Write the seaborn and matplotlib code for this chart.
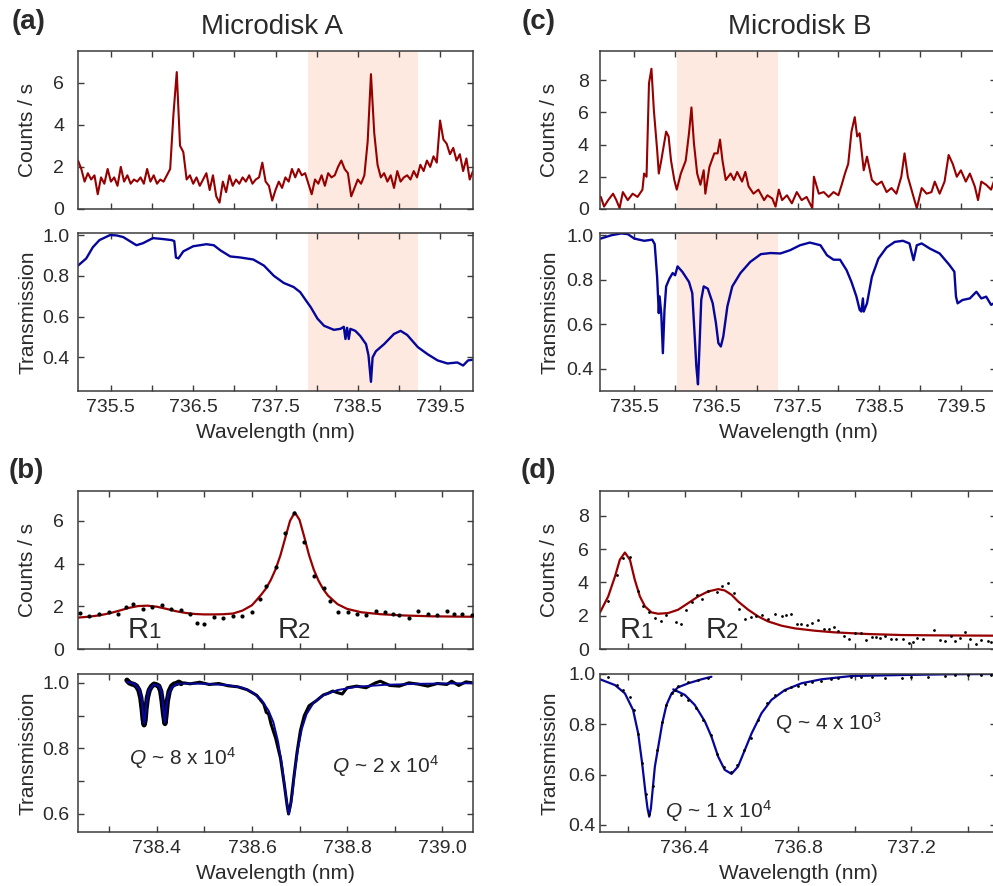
import numpy as np
import matplotlib
matplotlib.use('Agg')
import matplotlib.pyplot as plt
import seaborn as sns

# ---------------- data ----------------
# (a) Microdisk A, PL counts (uniform grid 735.10 .. 739.90, step 0.04 nm)
a_counts_start = 735.10
a_counts_step = 0.04
a_counts = [2.3, 1.9, 1.3, 1.7, 1.4, 1.6, 0.7, 1.5, 1.2, 1.9,
            1.3, 1.5, 1.1, 2.0, 1.3, 1.6, 1.2, 1.4, 1.3, 1.5,
            1.2, 1.9, 1.3, 1.6, 1.2, 1.4, 1.3, 1.6, 1.9, 4.5,
            6.5, 3.0, 2.7, 1.4, 1.6, 1.2, 1.5, 1.1, 1.4, 1.7,
            0.9, 1.6, 0.6, 0.3, 1.3, 0.8, 1.6, 1.1, 1.4, 1.2,
            1.5, 1.3, 1.6, 1.2, 1.4, 1.5, 2.2, 1.3, 1.1, 0.4,
            0.9, 1.3, 1.0, 1.5, 1.3, 1.9, 1.5, 1.9, 1.6, 1.7,
            1.2, 0.7, 1.4, 1.2, 1.6, 1.1, 1.7, 1.5, 1.6, 2.0,
            2.3, 1.9, 1.7, 0.6, 1.0, 1.4, 1.2, 1.6, 3.2, 6.4,
            3.6, 2.1, 1.5, 1.7, 1.3, 1.6, 1.0, 1.8, 1.3, 1.5,
            1.6, 1.4, 1.8, 1.5, 2.1, 1.8, 2.3, 2.0, 2.5, 2.2,
            4.2, 3.3, 3.1, 2.6, 2.9, 2.3, 2.6, 1.8, 2.4, 1.4, 1.8]

# (a) Microdisk A, transmission
a_trans_wl = [735.10, 735.20, 735.28, 735.36, 735.49, 735.57, 735.65, 735.77, 735.81, 735.89,
              736.01, 736.14, 736.24, 736.27, 736.29, 736.32, 736.38, 736.50, 736.66, 736.75,
              736.83, 736.95, 737.07, 737.23, 737.36, 737.48, 737.60, 737.72, 737.80, 737.86,
              737.93, 738.01, 738.09, 738.21, 738.29, 738.33, 738.35, 738.37, 738.39, 738.41,
              738.47, 738.53, 738.60, 738.63, 738.66, 738.68, 738.72, 738.82, 738.94, 739.02,
              739.10, 739.23, 739.35, 739.47, 739.59, 739.71, 739.78, 739.84, 739.92]
a_trans = [0.85, 0.885, 0.94, 0.975, 1.0, 0.998, 0.99, 0.96, 0.95, 0.96,
           0.985, 0.98, 0.975, 0.97, 0.89, 0.885, 0.92, 0.945, 0.955, 0.95,
           0.925, 0.895, 0.89, 0.88, 0.85, 0.80, 0.765, 0.745, 0.72, 0.685,
           0.645, 0.59, 0.555, 0.535, 0.54, 0.55, 0.49, 0.545, 0.49, 0.54,
           0.53, 0.505, 0.465, 0.41, 0.28, 0.40, 0.43, 0.465, 0.515, 0.53,
           0.51, 0.45, 0.415, 0.385, 0.37, 0.375, 0.36, 0.385, 0.39]

# (c) Microdisk B, PL counts
c_counts_wl = [735.09, 735.13, 735.18, 735.24, 735.28, 735.32, 735.36, 735.42, 735.48, 735.54,
               735.60, 735.62, 735.65, 735.68, 735.71, 735.74, 735.78, 735.80, 735.83, 735.89,
               735.92, 735.95, 735.99, 736.02, 736.07, 736.13, 736.17, 736.20, 736.23, 736.27,
               736.31, 736.35, 736.37, 736.42, 736.48, 736.52, 736.55, 736.58, 736.62, 736.68,
               736.72, 736.76, 736.82, 736.86, 736.90, 736.96, 737.02, 737.09, 737.13, 737.19,
               737.23, 737.27, 737.31, 737.37, 737.43, 737.49, 737.55, 737.61, 737.68, 737.70,
               737.76, 737.82, 737.88, 737.94, 738.00, 738.04, 738.08, 738.12, 738.16, 738.20,
               738.23, 738.26, 738.31, 738.35, 738.41, 738.47, 738.53, 738.59, 738.65, 738.71,
               738.77, 738.81, 738.85, 738.92, 738.96, 739.02, 739.08, 739.14, 739.18, 739.24,
               739.30, 739.35, 739.40, 739.45, 739.50, 739.56, 739.61, 739.67, 739.71, 739.75,
               739.81, 739.87, 739.91]
c_counts = [0.75, 0.15, 0.55, 0.95, 0.55, 0.05, 1.05, 0.55, 0.95, 0.75,
            1.2, 2.2, 2.0, 7.8, 8.7, 6.1, 3.65, 2.2, 3.0, 4.8,
            4.5, 3.0, 1.8, 1.2, 2.2, 3.0, 4.7, 6.3, 4.1, 2.2,
            1.5, 2.4, 0.95, 2.6, 3.45, 3.45, 4.3, 3.0, 1.8, 2.2,
            1.8, 2.3, 1.7, 2.3, 1.4, 0.95, 1.2, 0.55, 0.85, 0.65,
            0.15, 1.2, 0.55, 0.85, 0.35, 1.05, 0.55, 0.75, 0.05, 2.0,
            0.95, 1.05, 0.75, 1.05, 0.85, 1.5, 2.2, 2.8, 4.8, 5.7,
            4.5, 4.7, 2.4, 3.25, 1.8, 1.5, 1.7, 1.05, 1.3, 0.95,
            2.0, 3.45, 2.0, 0.75, 0.05, 1.3, 0.95, 1.05, 1.7, 0.95,
            1.7, 3.35, 2.8, 2.0, 2.4, 1.7, 2.2, 1.4, 0.55, 1.7,
            1.5, 1.2, 1.8]

# (c) Microdisk B, transmission
c_trans_wl = [735.09, 735.22, 735.34, 735.42, 735.50, 735.62, 735.72, 735.75, 735.78, 735.80,
              735.81, 735.83, 735.85, 735.87, 735.89, 735.93, 735.97, 736.00, 736.03, 736.09,
              736.17, 736.21, 736.24, 736.26, 736.28, 736.30, 736.32, 736.35, 736.40, 736.46,
              736.50, 736.53, 736.56, 736.59, 736.64, 736.70, 736.80, 736.92, 737.05, 737.17,
              737.29, 737.41, 737.53, 737.65, 737.78, 737.86, 737.94, 738.02, 738.10, 738.16,
              738.22, 738.26, 738.28, 738.30, 738.31, 738.35, 738.41, 738.49, 738.59, 738.69,
              738.79, 738.87, 738.90, 738.92, 738.96, 739.02, 739.12, 739.24, 739.36, 739.42,
              739.44, 739.46, 739.52, 739.61, 739.69, 739.75, 739.81, 739.87, 739.93]
c_trans = [0.985, 1.0, 1.008, 1.005, 0.985, 0.975, 0.98, 0.96, 0.81, 0.65,
           0.725, 0.65, 0.47, 0.665, 0.77, 0.805, 0.83, 0.82, 0.86, 0.835,
           0.79, 0.74, 0.545, 0.41, 0.33, 0.515, 0.71, 0.77, 0.76, 0.695,
           0.605, 0.515, 0.50, 0.545, 0.68, 0.77, 0.83, 0.88, 0.915, 0.92,
           0.918, 0.933, 0.955, 0.967, 0.955, 0.91, 0.89, 0.89, 0.843, 0.79,
           0.725, 0.665, 0.657, 0.716, 0.657, 0.694, 0.813, 0.895, 0.945, 0.97,
           0.975, 0.963, 0.918, 0.888, 0.955, 0.963, 0.94, 0.918, 0.866, 0.836,
           0.724, 0.694, 0.709, 0.716, 0.746, 0.716, 0.724, 0.687, 0.70]

# (b) zoom of microdisk A: PL points + fit
b_pl_wl = [738.239, 738.258, 738.279, 738.299, 738.319, 738.335, 738.349, 738.370, 738.390, 738.410,
           738.430, 738.450, 738.469, 738.485, 738.499, 738.520, 738.540, 738.560, 738.580, 738.601,
           738.616, 738.630, 738.650, 738.670, 738.688, 738.710, 738.730, 738.751, 738.765, 738.781,
           738.801, 738.821, 738.840, 738.861, 738.880, 738.896, 738.910, 738.931, 738.950, 738.971,
           738.990, 739.011, 739.025, 739.041, 739.062]
b_pl = [1.68, 1.53, 1.64, 1.73, 1.65, 1.99, 2.12, 1.87, 1.99, 2.04,
        1.87, 1.81, 1.65, 1.21, 1.17, 1.50, 1.46, 1.53, 1.53, 1.73,
        2.35, 2.96, 3.86, 5.42, 6.39, 5.03, 3.40, 2.88, 2.26, 1.71,
        1.73, 1.65, 1.57, 1.76, 1.73, 1.65, 1.57, 1.45, 1.76, 1.65,
        1.60, 1.79, 1.64, 1.64, 1.57]
b_pl_fit_wl = [738.234, 738.26, 738.28, 738.30, 738.32, 738.34, 738.36, 738.38, 738.40, 738.42,
               738.44, 738.46, 738.48, 738.50, 738.52, 738.54, 738.56, 738.58, 738.60, 738.61,
               738.62, 738.63, 738.64, 738.65, 738.66, 738.67, 738.68, 738.69, 738.70, 738.71,
               738.72, 738.73, 738.74, 738.75, 738.76, 738.78, 738.80, 738.83, 738.87, 738.92,
               738.98, 739.065]
b_pl_fit = [1.47, 1.52, 1.58, 1.67, 1.79, 1.92, 2.01, 2.03, 1.98, 1.88,
            1.77, 1.69, 1.64, 1.62, 1.62, 1.63, 1.66, 1.80, 2.05, 2.30,
            2.56, 2.85, 3.25, 3.75, 4.40, 5.20, 6.00, 6.40, 6.05, 5.25,
            4.40, 3.72, 3.20, 2.80, 2.50, 2.10, 1.88, 1.72, 1.63, 1.57,
            1.53, 1.51]

# (b) transmission: R1 doublet (data + fit) and R2 (data + fit)
b_t1_wl = [738.337, 738.342, 738.347, 738.352, 738.357, 738.362, 738.366, 738.369, 738.371, 738.373,
           738.375, 738.377, 738.380, 738.384, 738.389, 738.394, 738.399, 738.404, 738.408, 738.411,
           738.414, 738.417, 738.419, 738.422, 738.426, 738.431, 738.436, 738.441, 738.446, 738.451]
b_t1 = [1.008, 1.0, 0.997, 0.995, 0.99, 0.978, 0.955, 0.92, 0.89, 0.872,
        0.885, 0.92, 0.955, 0.978, 0.99, 0.996, 0.994, 0.99, 0.975, 0.945,
        0.905, 0.876, 0.90, 0.945, 0.975, 0.99, 0.996, 0.998, 1.002, 0.998]
b_t1_fit_wl = [738.337, 738.352, 738.363, 738.368, 738.371, 738.373, 738.376, 738.379, 738.384, 738.394,
               738.405, 738.410, 738.413, 738.415, 738.417, 738.418, 738.420, 738.424, 738.431, 738.440,
               738.450]
b_t1_fit = [1.003, 0.998, 0.98, 0.95, 0.905, 0.876, 0.905, 0.95, 0.98, 0.995,
            0.99, 0.97, 0.93, 0.90, 0.879, 0.90, 0.93, 0.965, 0.985, 0.995,
            0.998]
b_t2_wl = [738.456, 738.47, 738.49, 738.51, 738.53, 738.55, 738.57, 738.59, 738.61, 738.625,
           738.63, 738.635, 738.64, 738.65, 738.66, 738.668, 738.674, 738.677, 738.682, 738.688,
           738.695, 738.702, 738.71, 738.72, 738.735, 738.75, 738.76, 738.77, 738.78, 738.79,
           738.80, 738.82, 738.84, 738.86, 738.87, 738.89, 738.91, 738.93, 738.95, 738.97,
           738.99, 739.01, 739.02, 739.035, 739.05, 739.065]
b_t2 = [1.0, 0.997, 1.002, 0.995, 0.998, 0.991, 0.988, 0.979, 0.962, 0.935,
        0.91, 0.905, 0.875, 0.83, 0.77, 0.69, 0.625, 0.60, 0.635, 0.71,
        0.79, 0.855, 0.90, 0.93, 0.945, 0.963, 0.968, 0.975, 0.97, 0.966,
        0.985, 0.99, 0.985, 1.0, 1.005, 0.992, 0.99, 1.0, 0.996, 0.99,
        0.998, 0.995, 1.005, 0.992, 1.003, 1.0]
b_t2_fit_wl = [738.456, 738.50, 738.55, 738.58, 738.60, 738.62, 738.635, 738.645, 738.655, 738.663,
               738.670, 738.675, 738.677, 738.680, 738.685, 738.690, 738.697, 738.705, 738.715, 738.73,
               738.75, 738.78, 738.82, 738.88, 738.95, 739.065]
b_t2_fit = [0.998, 0.997, 0.993, 0.985, 0.972, 0.948, 0.915, 0.88, 0.82, 0.75,
            0.67, 0.62, 0.60, 0.615, 0.66, 0.73, 0.80, 0.86, 0.905, 0.94,
            0.962, 0.978, 0.988, 0.994, 0.997, 0.999]

# (d) zoom of microdisk B: PL points + fit
d_pl_wl = [736.127, 736.159, 736.182, 736.206, 736.233, 736.253, 736.273, 736.294, 736.314, 736.333,
           736.367, 736.386, 736.404, 736.424, 736.444, 736.462, 736.482, 736.512, 736.533, 736.553,
           736.573, 736.592, 736.612, 736.633, 736.653, 736.673, 736.694, 736.720, 736.742, 736.759,
           736.777, 736.795, 736.812, 736.832, 736.851, 736.871, 736.891, 736.910, 736.928, 736.942,
           736.962, 736.981, 737.001, 737.021, 737.042, 737.060, 737.077, 737.091, 737.109, 737.130,
           737.148, 737.171, 737.192, 737.207, 737.222, 737.242, 737.281, 737.301, 737.319, 737.340,
           737.356, 737.372, 737.389, 737.409, 737.431, 737.448, 737.470, 737.484]
d_pl = [2.9, 4.46, 5.46, 5.52, 3.46, 2.56, 2.22, 1.86, 1.66, 2.02,
        1.6, 1.52, 2.36, 2.8, 3.22, 3.02, 3.46, 3.42, 3.76, 3.96,
        3.36, 2.4, 1.82, 1.9, 1.96, 2.06, 1.82, 2.1, 1.96, 2.06,
        2.1, 1.5, 1.5, 1.42, 1.56, 1.76, 1.2, 1.22, 1.3, 1.06,
        0.76, 0.6, 0.96, 0.96, 0.56, 0.7, 0.7, 0.66, 0.76, 0.6,
        0.6, 0.6, 0.36, 0.42, 0.66, 0.6, 1.12, 0.56, 0.5, 0.8,
        0.5, 0.66, 1.0, 0.6, 0.3, 0.56, 0.46, 0.42]
d_pl_fit_wl = [736.10, 736.129, 736.153, 736.170, 736.188, 736.206, 736.223, 736.241, 736.259, 736.282,
               736.306, 736.341, 736.376, 736.412, 736.447, 736.482, 736.518, 736.541, 736.565, 736.588,
               736.624, 736.659, 736.694, 736.742, 736.789, 736.859, 736.930, 737.048, 737.166, 737.283,
               737.50]
d_pl_fit = [2.2, 3.16, 4.36, 5.36, 5.8, 5.36, 4.16, 3.16, 2.56, 2.2,
            2.12, 2.16, 2.36, 2.76, 3.16, 3.46, 3.6, 3.52, 3.26, 2.86,
            2.36, 1.96, 1.66, 1.4, 1.24, 1.1, 1.0, 0.9, 0.84, 0.82,
            0.8]

# (d) transmission points and two fits
d_t_wl = [736.127, 736.159, 736.182, 736.206, 736.221, 736.235, 736.247, 736.261, 736.274, 736.288,
          736.303, 736.318, 736.333, 736.353, 736.376, 736.412, 736.447, 736.482,
          736.365, 736.388, 736.412, 736.441, 736.465, 736.492, 736.515, 736.539, 736.563, 736.586,
          736.610, 736.633, 736.659, 736.689, 736.718, 736.753, 736.777, 736.800, 736.824, 736.848,
          736.883, 736.918, 736.942, 736.989, 737.024, 737.060, 737.107, 737.166, 737.201, 737.260,
          737.319, 737.354, 737.401, 737.448, 737.484]
d_t = [0.987, 0.956, 0.936, 0.910, 0.857, 0.760, 0.645, 0.523, 0.444, 0.555,
       0.698, 0.811, 0.877, 0.926, 0.952, 0.967, 0.976, 0.985,
       0.936, 0.917, 0.897, 0.864, 0.817, 0.758, 0.682, 0.629, 0.612, 0.638,
       0.698, 0.744, 0.817, 0.883, 0.917, 0.936, 0.947, 0.952, 0.960, 0.967,
       0.974, 0.979, 0.984, 0.990, 0.988, 0.987, 0.986, 0.985, 0.987, 0.989,
       0.993, 0.996, 0.998, 0.998, 0.997]
d_t1_fit_wl = [736.10, 736.153, 736.188, 736.217, 736.235, 736.249, 736.261, 736.268, 736.274, 736.280,
               736.285, 736.294, 736.306, 736.320, 736.335, 736.353, 736.376, 736.412, 736.459, 736.494]
d_t1_fit = [0.979, 0.956, 0.923, 0.857, 0.764, 0.645, 0.526, 0.466, 0.433, 0.466,
            0.526, 0.632, 0.711, 0.804, 0.877, 0.923, 0.947, 0.963, 0.979, 0.989]
d_t2_fit_wl = [736.359, 736.400, 736.435, 736.471, 736.494, 736.518, 736.541, 736.565, 736.588, 736.612,
               736.636, 736.671, 736.706, 736.753, 736.812, 736.883, 736.989, 737.166, 737.342, 737.50]
d_t2_fit = [0.939, 0.917, 0.877, 0.811, 0.751, 0.671, 0.619, 0.603, 0.632, 0.698,
            0.764, 0.844, 0.897, 0.936, 0.963, 0.979, 0.992, 0.996, 0.999, 1.0]

# shaded windows
a_shade = (737.89, 739.23)
c_shade = (736.02, 737.26)

# ---------------- styling ----------------
RED = '#970000'
BLUE = '#06069a'
SHADE = '#fde9df'
TXT = '#2a2a2a'
SPINE = '#3c3c3c'

sns.set_theme(style='ticks')
plt.rcParams['font.family'] = ['Liberation Sans', 'DejaVu Sans']
plt.rcParams['mathtext.fontset'] = 'custom'
plt.rcParams['mathtext.rm'] = 'Liberation Sans'
plt.rcParams['mathtext.it'] = 'Liberation Sans:italic'
plt.rcParams['text.color'] = TXT
plt.rcParams['axes.labelcolor'] = TXT
plt.rcParams['xtick.color'] = TXT
plt.rcParams['ytick.color'] = TXT

W, H = 993, 886
fig = plt.figure(figsize=(W / 100, H / 100), dpi=100)


def add_ax(x0, x1, y0, y1):
    return fig.add_axes([x0 / W, 1 - y1 / H, (x1 - x0) / W, (y1 - y0) / H])


def style(ax, xlim, ylim, xmaj, xmin, ymaj, ylab, ymin=None, xlabel=False, ylabel='', ypad=9):
    ax.set_xlim(xlim)
    ax.set_ylim(ylim)
    ax.set_xticks(xmaj)
    ax.set_xticks(xmin, minor=True)
    ax.set_yticks(ymaj)
    ax.set_yticklabels(ylab)
    if ymin is not None:
        ax.set_yticks(ymin, minor=True)
    ax.tick_params(which='both', direction='in', top=True, right=True,
                   length=4.5, width=1.0, color=SPINE, labelsize=14)
    ax.tick_params(axis='y', pad=ypad)
    ax.tick_params(axis='x', pad=6)
    for s in ax.spines.values():
        s.set_linewidth(1.1)
        s.set_color(SPINE)
    if xlabel:
        ax.set_xlabel('Wavelength (nm)', fontsize=15)
        ax.xaxis.set_label_coords(0.5, -0.2)
    else:
        ax.set_xlabel('')
        ax.set_xticklabels([])
    ax.set_ylabel(ylabel, fontsize=15)
    ax.yaxis.set_label_coords(-0.103, 0.5)


def line(ax, x, y, color, lw):
    sns.lineplot(x=x, y=y, ax=ax, color=color, lw=lw, sort=False, estimator=None)


def r_label(ax, x, y, n):
    ax.text(x, y, 'R', fontsize=21, color=TXT, va='baseline', ha='left')
    ax.annotate(n, xy=(x, y), xytext=(14.5, 0), textcoords='offset points',
                fontsize=16, color=TXT, va='baseline', ha='left')


# panel geometry (pixels)
LX0, LX1 = 78, 473
RX0, RX1 = 600, 996

big_major = [735.5, 736.5, 737.5, 738.5, 739.5]
big_minor = [736.0, 737.0, 738.0, 739.0]

# (a) top
ax = add_ax(LX0, LX1, 51, 209)
ax.axvspan(*a_shade, color=SHADE, lw=0, zorder=0)
a_wl = np.round(a_counts_start + a_counts_step * np.arange(len(a_counts)), 2)
line(ax, a_wl, a_counts, RED, 1.5)
style(ax, (735.1, 739.9), (0, 7.5), big_major, big_minor, [0, 2, 4, 6], ['0', '2', '4', '6'],
      ylabel='Counts / s', ypad=10)

# (a) bottom
ax = add_ax(LX0, LX1, 233, 391)
ax.axvspan(*a_shade, color=SHADE, lw=0, zorder=0)
line(ax, a_trans_wl, a_trans, BLUE, 1.7)
style(ax, (735.1, 739.9), (0.235, 1.01), big_major, big_minor, [0.4, 0.6, 0.8, 1.0],
      ['0.4', '0.6', '0.8', '1.0'], xlabel=True, ylabel='Transmission', ypad=6)
ax.set_xticklabels(['735.5', '736.5', '737.5', '738.5', '739.5'])

# (c) top
ax = add_ax(RX0, RX1, 51, 209)
ax.axvspan(*c_shade, color=SHADE, lw=0, zorder=0)
line(ax, c_counts_wl, c_counts, RED, 1.5)
style(ax, (735.08, 739.93), (0, 9.8), big_major, big_minor, [0, 2, 4, 6, 8],
      ['0', '2', '4', '6', '8'], ylabel='Counts / s', ypad=8)

# (c) bottom
ax = add_ax(RX0, RX1, 233, 391)
ax.axvspan(*c_shade, color=SHADE, lw=0, zorder=0)
line(ax, c_trans_wl, c_trans, BLUE, 1.7)
style(ax, (735.08, 739.93), (0.30, 1.01), big_major, big_minor, [0.4, 0.6, 0.8, 1.0],
      ['0.4', '0.6', '0.8', '1.0'], xlabel=True, ylabel='Transmission', ypad=4.5)
ax.set_xticklabels(['735.5', '736.5', '737.5', '738.5', '739.5'])

# (b) top
b_major = [738.4, 738.6, 738.8, 739.0]
b_minor = [738.3, 738.5, 738.7, 738.9]
ax = add_ax(LX0, LX1, 491, 649)
line(ax, b_pl_fit_wl, b_pl_fit, RED, 1.6)
sns.scatterplot(x=b_pl_wl, y=b_pl, ax=ax, color='black', s=9, linewidth=0, zorder=3)
style(ax, (738.234, 739.065), (0, 7.4), b_major, b_minor, [0, 2, 4, 6],
      ['0', '2', '4', '6'], ylabel='Counts / s', ypad=10)
r_label(ax, 738.339, 0.5, '1')
r_label(ax, 738.655, 0.5, '2')

# (b) bottom
ax = add_ax(LX0, LX1, 674, 832)
line(ax, b_t1_wl, b_t1, 'black', 3.8)
line(ax, b_t1_fit_wl, b_t1_fit, BLUE, 1.6)
line(ax, b_t2_wl, b_t2, 'black', 2.2)
line(ax, b_t2_fit_wl, b_t2_fit, BLUE, 1.4)
style(ax, (738.234, 739.065), (0.545, 1.027), b_major, b_minor, [0.6, 0.8, 1.0],
      ['0.6', '0.8', '1.0'], ymin=[0.7, 0.9], xlabel=True, ylabel='Transmission', ypad=6)
ax.set_xticklabels(['738.4', '738.6', '738.8', '739.0'])
ax.text(738.341, 0.749, r'$\mathit{Q}$ ~ 8 x 10$^{4}$', fontsize=15, color=TXT)
ax.text(738.769, 0.725, r'$\mathit{Q}$ ~ 2 x 10$^{4}$', fontsize=15, color=TXT)

# (d) top
d_major = [736.4, 736.8, 737.2]
d_minor = [736.2, 736.6, 737.0, 737.4]
ax = add_ax(RX0, RX1, 491, 649)
line(ax, d_pl_fit_wl, d_pl_fit, RED, 1.6)
sns.scatterplot(x=d_pl_wl, y=d_pl, ax=ax, color='black', s=4, linewidth=0, zorder=3)
style(ax, (736.1, 737.5), (0, 9.5), d_major, d_minor, [0, 2, 4, 6, 8],
      ['0', '2', '4', '6', '8'], ylabel='Counts / s', ypad=8)
r_label(ax, 736.170, 0.66, '1')
r_label(ax, 736.473, 0.66, '2')

# (d) bottom
ax = add_ax(RX0, RX1, 674, 832)
line(ax, d_t1_fit_wl, d_t1_fit, BLUE, 1.6)
line(ax, d_t2_fit_wl, d_t2_fit, BLUE, 1.6)
sns.scatterplot(x=d_t_wl, y=d_t, ax=ax, color='black', s=4, linewidth=0, zorder=3)
style(ax, (736.1, 737.5), (0.372, 1.0), d_major, d_minor, [0.4, 0.6, 0.8, 1.0],
      ['0.4', '0.6', '0.8', '1.0'], xlabel=True, ylabel='Transmission', ypad=3.5)
ax.set_xticklabels(['736.4', '736.8', '737.2'])
ax.text(736.718, 0.777, r'Q ~ 4 x 10$^{3}$', fontsize=15, color=TXT)
ax.text(736.329, 0.427, r'$\mathit{Q}$ ~ 1 x 10$^{4}$', fontsize=15, color=TXT)

# titles and panel letters
fig.text(272 / W, 1 - 27 / H, 'Microdisk A', fontsize=20, ha='center', va='center', color=TXT)
fig.text(800 / W, 1 - 27 / H, 'Microdisk B', fontsize=20, ha='center', va='center', color=TXT)
for lab, x, y in [('(a)', 12, 22), ('(c)', 522, 22), ('(b)', 9, 471), ('(d)', 521, 471)]:
    fig.text(x / W, 1 - y / H, lab, fontsize=20, fontweight='bold', ha='left', va='center', color=TXT)

fig.savefig('out.png', dpi=100)
